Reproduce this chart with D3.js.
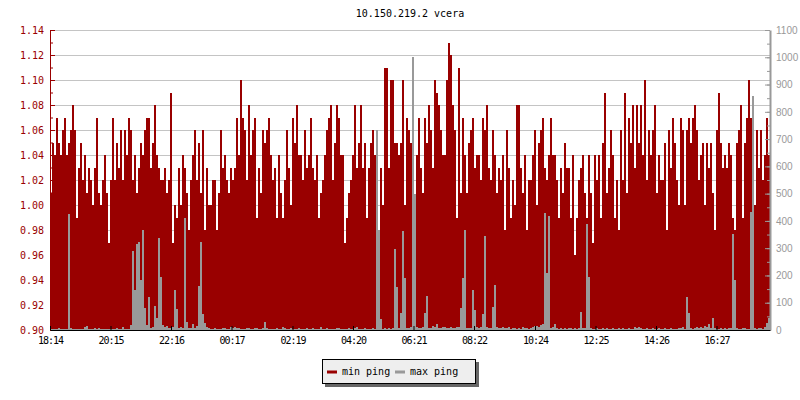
<!DOCTYPE html>
<html>
<head>
<meta charset="utf-8">
<script src="https://cdn.jsdelivr.net/npm/d3@7"></script>
<style>
  body { margin: 0; background: #fff; }
  svg { display: block; }
  text { font-family: "DejaVu Sans Mono", monospace; font-size: 10px; }
</style>
</head>
<body>
<div id="chart"></div>
<script>
// series values, one bar every 4 minutes starting 18:14
var startTime = "18:14";
var stepMinutes = 4;

var minPing = [
  1.01,1.05,1.04,1.07,1.05,1.04,1.06,1.07,1.04,1.05,
  1.06,1.08,1.06,0.99,1.03,1.05,1.02,1.04,1.01,1.03,
  1.02,1.00,1.03,1.07,1.01,1.00,1.02,1.04,1.01,0.97,
  1.02,1.07,1.02,1.05,1.03,1.06,1.02,1.06,1.04,1.07,
  1.06,1.02,1.04,1.01,1.03,1.05,1.04,1.06,1.07,1.07,
  1.03,1.05,1.08,1.04,1.03,1.02,1.02,1.03,1.01,1.02,
  1.09,0.97,1.00,0.99,1.03,1.00,1.04,1.03,1.01,0.98,
  1.02,1.04,1.06,1.02,1.05,1.01,1.06,0.98,1.03,1.00,
  1.00,1.02,1.02,0.98,1.01,1.06,1.03,1.04,1.02,1.01,
  1.03,1.02,1.03,1.07,1.04,1.10,1.07,1.06,1.02,1.08,
  1.04,1.06,1.07,0.99,1.03,1.01,1.06,1.05,1.06,1.07,
  1.04,1.02,1.03,0.99,1.04,1.01,0.99,1.02,1.06,1.03,
  1.00,1.07,1.05,1.08,1.04,1.04,1.02,1.06,1.03,1.04,
  1.07,1.03,1.02,1.04,0.99,1.01,1.02,1.04,1.06,1.07,
  1.08,1.02,1.05,1.08,1.07,1.04,1.04,0.97,0.99,1.01,
  1.02,1.04,1.08,1.03,1.05,1.08,1.03,1.05,0.99,1.03,
  1.05,1.06,1.04,1.06,0.98,1.03,1.00,1.11,1.11,1.03,
  1.10,1.10,1.05,1.05,1.04,1.05,1.10,1.00,1.07,1.06,
  1.05,1.05,1.00,1.04,1.07,1.03,1.01,1.07,1.05,1.08,
  1.06,1.03,1.10,1.09,1.08,1.06,1.04,1.04,1.10,1.13,
  1.12,1.08,1.06,0.99,1.11,1.01,1.07,1.04,1.01,1.05,
  1.06,1.07,1.03,1.04,1.04,1.02,1.07,1.06,1.08,1.03,
  1.02,1.06,1.04,1.01,1.03,1.02,1.04,0.98,1.06,1.03,
  0.99,1.02,1.00,1.08,1.08,1.03,1.01,1.04,0.98,1.02,
  1.02,1.04,1.06,1.00,1.05,1.06,1.07,1.03,1.02,1.04,
  1.07,1.04,1.04,1.02,0.99,1.03,1.01,1.05,1.03,1.03,
  0.99,1.04,0.96,0.99,1.02,1.03,1.04,1.01,0.99,1.04,
  1.01,0.97,1.04,1.02,1.04,0.99,1.05,1.09,1.01,1.03,
  1.06,1.04,0.99,1.02,0.98,1.06,1.02,1.09,1.01,1.07,
  1.05,1.08,1.03,1.08,1.05,1.08,1.04,1.10,1.02,1.06,
  1.04,1.06,1.08,1.01,1.04,1.02,1.02,1.05,0.98,1.06,
  1.03,1.07,1.05,1.02,1.00,1.07,1.06,1.00,1.06,1.07,
  1.05,1.07,1.08,1.06,1.02,1.04,1.05,1.00,1.05,1.03,
  1.05,1.01,0.98,1.06,1.09,1.05,1.03,1.04,1.03,1.05,
  1.04,0.99,0.98,1.05,1.06,1.08,0.99,1.05,1.07,1.10,
  1.07,0.96,1.00,1.06,1.03,1.06,1.02,1.04,1.07,1.04
];

var maxPing = [
  4,3,5,4,6,3,4,5,3,425,
  6,4,3,5,4,3,4,12,14,5,
  4,3,6,4,8,5,3,4,3,4,
  5,3,4,6,5,3,12,4,5,4,
  18,290,147,316,324,183,367,81,20,122,
  8,12,88,44,337,195,18,10,14,9,
  6,12,147,77,8,10,6,412,30,6,
  8,22,6,14,163,324,58,26,12,6,
  5,4,6,3,5,4,6,8,5,4,
  10,6,12,8,7,4,5,4,6,9,
  5,4,6,7,4,5,8,29,6,4,
  5,4,3,6,5,4,10,7,4,5,
  6,4,5,4,7,3,5,4,8,5,
  4,6,5,3,4,12,5,4,6,5,
  4,5,3,6,8,4,5,4,3,6,
  5,4,6,10,4,5,3,6,4,5,
  4,6,5,733,367,40,5,6,4,8,
  5,6,297,159,8,62,364,191,6,8,
  12,1000,500,10,8,6,10,62,125,8,
  6,14,10,22,8,6,10,12,8,6,
  10,8,6,12,10,81,191,367,8,6,
  8,147,73,10,6,12,60,345,10,8,
  6,86,165,10,8,6,10,8,6,12,
  5,6,8,4,6,5,10,6,8,5,
  6,12,14,16,12,20,22,430,209,418,
  8,10,22,8,5,6,4,6,5,8,
  6,5,8,4,6,67,8,6,389,196,
  6,4,5,8,4,5,6,4,8,5,
  4,6,5,4,8,5,6,4,5,6,
  5,4,12,8,10,6,4,5,6,4,
  5,6,4,5,8,4,5,6,4,5,
  6,4,5,4,6,8,12,5,122,62,
  6,4,8,12,6,10,8,14,10,22,
  8,44,6,5,4,6,5,8,5,6,
  6,352,183,6,4,5,8,6,5,4,
  434,859,6,5,8,6,5,10,26,44
];

var timeLabels = ["18:14","20:15","22:16","00:17","02:19","04:20","06:21","08:22","10:24","12:25","14:26","16:27"];
var leftTicks = [0.90,0.92,0.94,0.96,0.98,1.00,1.02,1.04,1.06,1.08,1.10,1.12,1.14];
var rightTicks = [0,100,200,300,400,500,600,700,800,900,1000,1100];
var seriesNames = ["min ping", "max ping"];
var seriesColors = ["#990000", "#999999"];

var margin = {top: 30, right: 30, bottom: 70, left: 50},
    width = 800 - margin.left - margin.right,
    height = 400 - margin.top - margin.bottom;

function toMin(s) {
  var p = s.split(":");
  return +p[0] * 60 + +p[1];
}
var start = toMin(startTime);
function sinceStart(s) {
  return (toMin(s) - start + 1440) % 1440;
}

var svg = d3.select("#chart")
  .append("svg")
    .attr("width", 800)
    .attr("height", 400);

svg.append("rect")
  .attr("width", 800).attr("height", 400).attr("fill", "#fff");

var g = svg.append("g")
  .attr("transform", "translate(" + margin.left + "," + margin.top + ")");

var x = d3.scaleLinear()
  .domain([0, 1440])
  .range([0, width]);

var y = d3.scaleLinear()
  .domain([0.90, 1.14])
  .range([height, 0]);

var y2 = d3.scaleLinear()
  .domain([0, 1100])
  .range([height, 0]);

// title
svg.append("text")
  .attr("x", margin.left + width / 2)
  .attr("y", 17)
  .attr("text-anchor", "middle")
  .attr("fill", "#000")
  .text("10.150.219.2 vcera");

// grid
g.append("g")
  .selectAll("line")
  .data(leftTicks)
  .enter()
  .append("line")
    .attr("x1", 0)
    .attr("x2", width)
    .attr("y1", function (d) { return Math.round(y(d)) + 0.5; })
    .attr("y2", function (d) { return Math.round(y(d)) + 0.5; })
    .attr("stroke", "#c4c4c4");

var barW = x(stepMinutes) - x(0);

// min ping bars
g.append("g")
  .selectAll("rect")
  .data(minPing)
  .enter()
  .append("rect")
    .attr("x", function (d, i) { return x(i * stepMinutes); })
    .attr("width", barW)
    .attr("y", function (d) { return y(d); })
    .attr("height", function (d) { return height - y(d); })
    .attr("fill", seriesColors[0])
    .attr("shape-rendering", "crispEdges");

// max ping bars (right axis)
g.append("g")
  .selectAll("rect")
  .data(maxPing)
  .enter()
  .append("rect")
    .attr("x", function (d, i) { return x(i * stepMinutes); })
    .attr("width", barW)
    .attr("y", function (d) { return y2(d); })
    .attr("height", function (d) { return height - y2(d); })
    .attr("fill", seriesColors[1])
    .attr("shape-rendering", "crispEdges");

// left axis
var minor = d3.range(0, 25).map(function (k) { return 0.90 + k * 0.01; });
g.append("g")
  .call(d3.axisLeft(y).tickValues(minor).tickSize(-3).tickFormat(""))
  .call(function (a) { a.select(".domain").remove(); })
  .selectAll("line").attr("stroke", "#990000");

var leftAxis = g.append("g")
  .call(d3.axisLeft(y).tickValues(leftTicks).tickSizeInner(-5).tickSizeOuter(0).tickPadding(6).tickFormat(d3.format(".2f")));
leftAxis.select(".domain").attr("stroke", "#990000");
leftAxis.selectAll("line").attr("stroke", "#990000");
leftAxis.selectAll("text")
  .attr("fill", "#990000")
  .style("font-family", "DejaVu Sans Mono")
  .style("font-size", "10px");

// right axis
var minor2 = d3.range(0, 23).map(function (k) { return k * 50; });
g.append("g")
  .attr("transform", "translate(" + width + ",0)")
  .call(d3.axisRight(y2).tickValues(minor2).tickSize(-3).tickFormat(""))
  .call(function (a) { a.select(".domain").remove(); })
  .selectAll("line").attr("stroke", "#999");

var rightAxis = g.append("g")
  .attr("transform", "translate(" + width + ",0)")
  .call(d3.axisRight(y2).tickValues(rightTicks).tickSizeInner(-5).tickSizeOuter(0).tickPadding(6).tickFormat(d3.format("d")));
rightAxis.select(".domain").attr("stroke", "#999").attr("stroke-width", 2);
rightAxis.selectAll("line").attr("stroke", "#999");
rightAxis.selectAll("text")
  .attr("fill", "#999")
  .style("font-family", "Liberation Sans")
  .style("font-size", "10px");

// bottom axis
var xAxis = g.append("g")
  .attr("transform", "translate(0," + height + ")")
  .call(d3.axisBottom(x)
    .tickValues(timeLabels.map(sinceStart))
    .tickSizeInner(-4).tickSizeOuter(0).tickPadding(7)
    .tickFormat(function (d, i) { return timeLabels[i]; }));
xAxis.select(".domain").attr("stroke", "#000");
xAxis.selectAll("line").attr("stroke", "#000");
xAxis.selectAll("text")
  .attr("fill", "#000")
  .style("font-family", "DejaVu Sans Mono")
  .style("font-size", "10px")
  .style("letter-spacing", "-1px");

// legend
var lg = svg.append("g").attr("transform", "translate(322,359)");
lg.append("rect")
  .attr("x", 3).attr("y", 3).attr("width", 154).attr("height", 25)
  .attr("fill", "#666");
lg.append("rect")
  .attr("x", 0.5).attr("y", 0.5).attr("width", 153).attr("height", 24)
  .attr("fill", "#eeeeee").attr("stroke", "#000");

var items = lg.selectAll(".item")
  .data(seriesNames)
  .enter()
  .append("g")
    .attr("class", "item")
    .attr("transform", function (d, i) { return "translate(" + (5 + i * 68) + ",0)"; });
items.append("line")
  .attr("x1", 0).attr("x2", 10)
  .attr("y1", 13).attr("y2", 13)
  .attr("stroke", function (d, i) { return seriesColors[i]; })
  .attr("stroke-width", 3);
items.append("text")
  .attr("x", 15)
  .attr("y", 16)
  .attr("fill", "#000")
  .text(function (d) { return d; });
</script>
</body>
</html>
